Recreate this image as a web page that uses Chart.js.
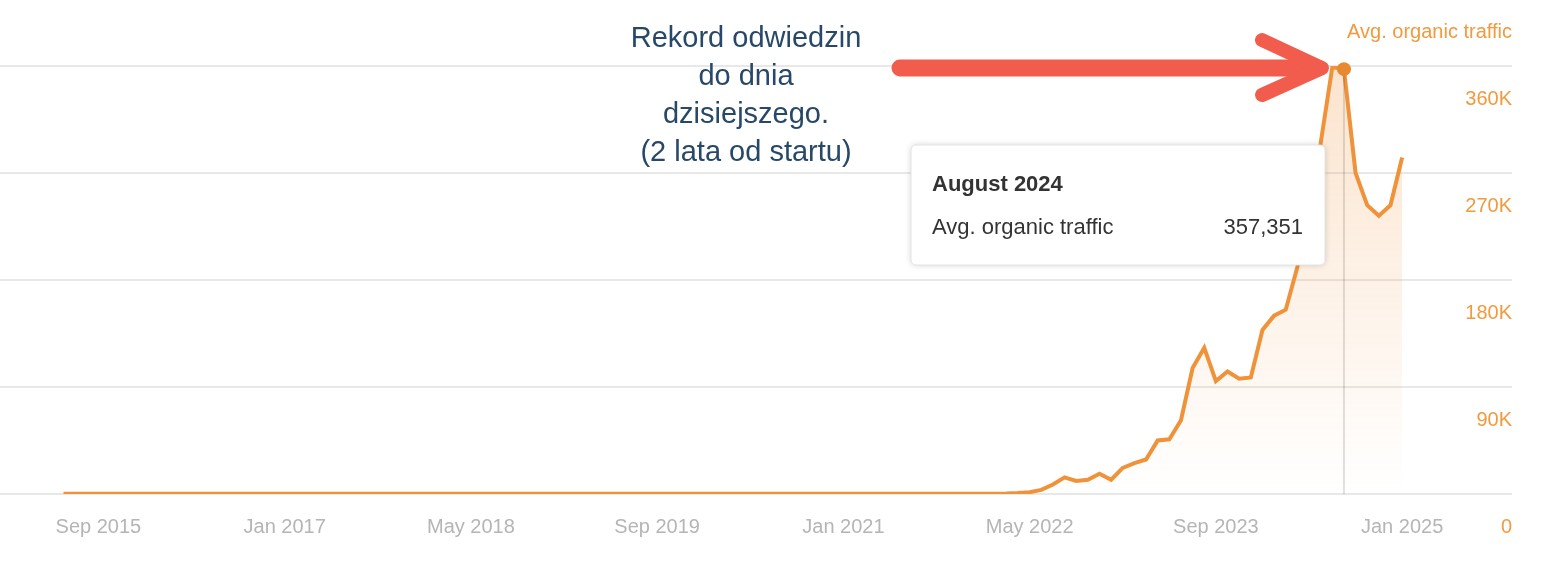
<!DOCTYPE html>
<html><head><meta charset="utf-8">
<script src="https://cdn.jsdelivr.net/npm/chart.js@4"></script>
<style>html,body{margin:0;padding:0;background:#fff}#w{width:1544px;height:564px;position:relative}</style>
</head><body><div id="w"><canvas id="c"></canvas></div>
<script>
const startLabel = "Jun 2015";
const xTickLabels = ["Sep 2015","Jan 2017","May 2018","Sep 2019","Jan 2021","May 2022","Sep 2023","Jan 2025"];
const xTickIndex = [3,19,35,51,67,83,99,115];
const yTickValues = [0,90000,180000,270000,360000];
const yTickLabels = ["0","90K","180K","270K","360K"];
// monthly values Jun 2015 .. Dec 2021 (near zero), then Jan 2022 .. Jan 2025
const flatPart = Array(80).fill(200);
const growthPart = [300,400,800,1500,3500,8000,14000,11000,12000,17000,12000,
  22000,26000,29000,45000,46000,62000,106000,123000,95000,103000,97000,98000,
  138000,150000,155000,191000,240000,295000,359000,357351,270000,243000,234000,243000,283000];
const traffic = flatPart.concat(growthPart);
const hoverIndex = 110;

const orange = '#f0923a';
const plug = {
  id:'deco',
  afterDraw(ch){
    const c=ch.ctx, xs=ch.scales.x, ys=ch.scales.y;
    c.save();
    c.font='20px "Liberation Sans", Arial'; c.fillStyle='#b5b5b5'; c.textAlign='center'; c.textBaseline='middle';
    xTickIndex.forEach((i,k)=>c.fillText(xTickLabels[k], xs.getPixelForValue(i), 527));
    c.fillStyle='#f19a3e'; c.textAlign='right';
    yTickValues.forEach((v,k)=>c.fillText(yTickLabels[k], 1512, ys.getPixelForValue(v)+33));
    c.fillText('Avg. organic traffic', 1512, 32);
    const hx=xs.getPixelForValue(hoverIndex), hy=ys.getPixelForValue(traffic[hoverIndex]);
    c.strokeStyle='rgba(0,0,0,0.12)'; c.lineWidth=2;
    c.beginPath(); c.moveTo(hx, ys.getPixelForValue(360000)); c.lineTo(hx, ys.bottom); c.stroke();
    c.fillStyle='#e8892f'; c.beginPath(); c.arc(hx,hy,7,0,Math.PI*2); c.fill();
    c.strokeStyle='#f25c4c'; c.fillStyle='#f25c4c'; c.lineCap='round'; c.lineJoin='round';
    c.lineWidth=17; c.beginPath(); c.moveTo(900,68); c.lineTo(1310,68); c.stroke();
    c.lineWidth=14; c.beginPath(); c.moveTo(1262,40); c.lineTo(1322,68); c.lineTo(1262,95); c.stroke();
    c.fillStyle='#274868'; c.font='29px "Liberation Sans", Arial'; c.textAlign='center';
    ['Rekord odwiedzin','do dnia','dzisiejszego.','(2 lata od startu)'].forEach((t,k)=>c.fillText(t,746,39+k*38));
    c.shadowColor='rgba(0,0,0,0.18)'; c.shadowBlur=6; c.fillStyle='#fff';
    c.beginPath(); c.roundRect(911,145,414,120,5); c.fill();
    c.shadowBlur=0; c.strokeStyle='#e4e4e4'; c.lineWidth=1; c.stroke();
    c.fillStyle='#333'; c.textAlign='left'; c.font='bold 22px "Liberation Sans", Arial';
    c.fillText('August 2024',932,185);
    c.font='22px "Liberation Sans", Arial'; c.fillText('Avg. organic traffic',932,228);
    c.textAlign='right'; c.fillText(traffic[hoverIndex].toLocaleString('en-US'),1303,228);
    c.restore();
  }
};
new Chart(document.getElementById('c'),{
  type:'line',
  data:{datasets:[{data:traffic.map((v,i)=>({x:i,y:v})),borderColor:orange,borderWidth:4,pointRadius:0,tension:0,
    fill:true,backgroundColor:(ctx)=>{const a=ctx.chart.chartArea;if(!a)return 'rgba(240,146,58,0.15)';
      const g=ctx.chart.ctx.createLinearGradient(0,a.top,0,a.bottom);g.addColorStop(0,'rgba(240,146,58,0.25)');g.addColorStop(1,'rgba(240,146,58,0)');return g;}}]},
  options:{responsive:true,maintainAspectRatio:false,animation:false,
    layout:{padding:{top:66,bottom:70,left:0,right:32}},
    plugins:{legend:{display:false},tooltip:{enabled:false}},
    scales:{
      x:{type:'linear',min:-63/11.55,max:115+109/11.55,display:false},
      y:{min:0,max:360000,afterBuildTicks:(s)=>{s.ticks=yTickValues.map(v=>({value:v}));},
        grid:{color:'#e8e8e8',lineWidth:2,drawTicks:false},border:{display:false},ticks:{display:false}}
    }},
  plugins:[plug]
});
</script></body></html>
